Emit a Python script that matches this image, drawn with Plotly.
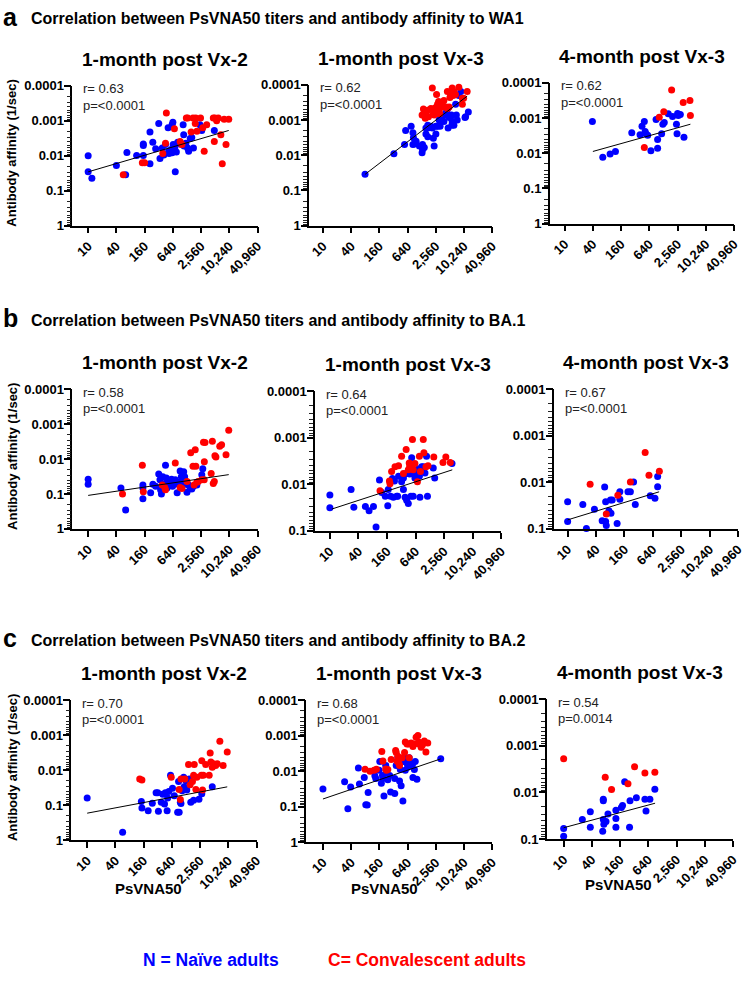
import math
import plotly.graph_objects as go

W, H = 747, 983
BLUE = "#0000FF"
RED = "#FF0000"
FONT = "Liberation Sans, Arial, Helvetica, sans-serif"

# ---------------- data ----------------
X_TICKS = [10, 40, 160, 640, 2560, 10240, 40960]
X_TICK_TEXT = ["10", "40", "160", "640", "2,560", "10,240", "40,960"]
Y_TICKS = [0.0001, 0.001, 0.01, 0.1, 1]
Y_TICK_TEXT = ["0.0001", "0.001", "0.01", "0.1", "1"]

SECTION_LETTERS = ["a", "b", "c"]
SECTION_TITLES = [
    "Correlation between PsVNA50 titers and antibody affinity to WA1",
    "Correlation between PsVNA50 titers and antibody affinity to BA.1",
    "Correlation between PsVNA50 titers and antibody affinity to BA.2",
]
PANEL_TITLES = ["1-month post Vx-2", "1-month post Vx-3", "4-month post Vx-3"] * 3
R_TEXT = ["r= 0.63", "r= 0.62", "r= 0.62", "r= 0.58", "r= 0.64", "r= 0.67",
          "r= 0.70", "r= 0.68", "r= 0.54"]
P_TEXT = ["p=&lt;0.0001"] * 8 + ["p=0.0014"]

# WA1, 1-month post Vx-2
A1_N = [(10, 0.010), (10, 0.029), (12, 0.044), (40, 0.019), (63, 0.035), (67, 0.0081), (108, 0.0098),
        (150, 0.0046), (150, 0.0051), (150, 0.0098), (208, 0.0021), (208, 0.017), (239, 0.0041),
        (275, 0.0063), (320, 0.0012), (340, 0.012), (380, 0.006), (410, 0.0096), (446, 0.0048),
        (507, 0.0016), (520, 0.0074), (530, 0.0087), (590, 0.0066), (617, 0.0013), (617, 0.0083),
        (640, 0.0011), (650, 0.0048), (700, 0.0062), (720, 0.029), (760, 0.0079), (810, 0.0041),
        (880, 0.0046), (970, 0.0046), (1060, 0.0013), (1090, 0.0025), (1110, 0.0053), (1210, 0.0044),
        (1320, 0.006), (1390, 0.0074), (1500, 0.0032), (1620, 0.003), (1760, 0.006), (2420, 0.0013),
        (2640, 0.0019), (4900, 0.0019)]
A1_C = [(56, 0.035), (143, 0.016), (160, 0.016), (390, 0.0087), (446, 0.0044), (465, 0.0006),
        (690, 0.0017), (915, 0.0039), (970, 0.0046), (1000, 0.0048), (1240, 0.00083), (1330, 0.00083),
        (1570, 0.0021), (1720, 0.00083), (1970, 0.00083), (1920, 0.0012), (2080, 0.002), (2490, 0.00083),
        (2780, 0.0016), (2980, 0.0074), (3370, 0.0013), (4660, 0.00083), (4900, 0.0039), (5050, 0.00083),
        (5500, 0.001), (5950, 0.00083), (6750, 0.0025), (7240, 0.017), (8700, 0.0048), (9950, 0.00091),
        (7940, 0.00091)]
A1_FIT = [(10, 0.029), (9950, 0.0019)]

# WA1, 1-month post Vx-3
A2_N = [(79, 0.035), (326, 0.0091), (550, 0.005), (580, 0.002), (760, 0.0015), (830, 0.0023), (850, 0.0032),
        (890, 0.0048), (970, 0.004), (830, 0.005), (1140, 0.0055), (1300, 0.0085), (1330, 0.005),
        (1330, 0.0069), (1450, 0.006), (1570, 0.0025), (1570, 0.0017), (1720, 0.0017), (1720, 0.003),
        (1720, 0.0014), (2000, 0.0015), (2150, 0.0017), (2260, 0.0033), (2350, 0.0055), (2560, 0.0025),
        (2560, 0.0015), (2780, 0.0015), (3000, 0.001), (3150, 0.0015), (3370, 0.00093), (3500, 0.00081),
        (3800, 0.0011), (4100, 0.00065), (4200, 0.00072), (4400, 0.00053), (4500, 0.00047), (4660, 0.0017),
        (4900, 0.00085), (5300, 0.00081), (5500, 0.00072), (5600, 0.0014), (5700, 0.0011), (6200, 0.0014),
        (6750, 0.00036), (7000, 0.00072), (7300, 0.001), (7900, 0.0002), (8700, 0.000154), (10700, 0.00085),
        (11000, 0.00081), (12600, 0.00059)]
A2_C = [(1300, 0.00072), (1390, 0.00049), (1520, 0.00089), (1570, 0.00059), (1690, 0.00081), (1720, 0.00053),
        (1780, 0.00081), (2000, 0.00047), (2150, 0.000123), (2260, 0.00066), (2350, 0.00072), (2490, 0.00045),
        (2560, 0.00066), (2650, 0.00019), (2780, 0.00036), (2930, 0.0003), (3000, 0.00053), (3100, 0.00066),
        (3250, 0.00041), (3500, 0.00043), (3600, 0.00039), (3800, 0.00028), (4200, 0.00043), (4500, 0.00047),
        (4500, 0.000154), (4900, 0.00043), (5100, 0.00023), (5300, 0.00019), (5700, 0.000123), (6000, 0.0002),
        (6200, 0.000154), (6700, 0.00019), (7900, 0.000117), (9400, 0.00036), (9400, 0.00024),
        (10000, 0.00024), (11900, 0.000154)]
A2_FIT = [(79, 0.035), (11900, 0.00021)]

# WA1, 4-month post Vx-3
A3_N = [(39, 0.00126), (65, 0.013), (93, 0.0105), (121, 0.0089), (270, 0.0026), (405, 0.003), (446, 0.0017),
        (500, 0.00126), (520, 0.0024), (540, 0.0028), (590, 0.0031), (690, 0.0085), (890, 0.0011),
        (960, 0.0041), (960, 0.0072), (1170, 0.0028), (1240, 0.0015), (1330, 0.00135), (1620, 0.00076),
        (2000, 0.00091), (2420, 0.0015), (2490, 0.0028), (2560, 0.00074), (2650, 0.00085), (2930, 0.00079),
        (3500, 0.0035)]
A3_C = [(500, 0.0069), (1040, 0.00095), (1300, 0.00066), (1910, 0.00016), (3370, 0.00036), (4700, 0.00032),
        (4800, 0.00085)]
A3_FIT = [(40, 0.0089), (4800, 0.0015)]

# BA.1, 1-month post Vx-2
B1_N = [(10, 0.038), (10, 0.053), (50, 0.068), (63, 0.29), (147, 0.055), (147, 0.068), (147, 0.138),
        (215, 0.093), (240, 0.053), (275, 0.06), (320, 0.027), (340, 0.039), (350, 0.076), (365, 0.1),
        (390, 0.032), (430, 0.051), (446, 0.015), (465, 0.035), (480, 0.068), (520, 0.044), (565, 0.053),
        (600, 0.038), (610, 0.053), (630, 0.06), (660, 0.044), (700, 0.053), (720, 0.039), (790, 0.093),
        (850, 0.047), (915, 0.022), (970, 0.032), (1000, 0.044), (1090, 0.023), (1140, 0.032), (1170, 0.053),
        (1280, 0.089), (1390, 0.055), (1500, 0.068), (1620, 0.072), (1760, 0.06), (2080, 0.055),
        (2650, 0.028), (2780, 0.019)]
B1_C = [(54, 0.1), (143, 0.015), (150, 0.087), (380, 0.055), (430, 0.065), (446, 0.076), (720, 0.013),
        (915, 0.065), (1000, 0.07), (1280, 0.044), (1540, 0.0066), (1720, 0.016), (1810, 0.055),
        (1920, 0.0054), (1980, 0.016), (2080, 0.046), (2230, 0.044), (2650, 0.039), (2880, 0.0033),
        (2980, 0.039), (3000, 0.012), (3100, 0.0034), (4200, 0.026), (4450, 0.0031), (4650, 0.05),
        (4900, 0.044), (5050, 0.0081), (5300, 0.0087), (6400, 0.0043), (7000, 0.0039), (8700, 0.0075),
        (9950, 0.0015)]
B1_FIT = [(10, 0.11), (9950, 0.028)]

# BA.1, 1-month post Vx-3
B2_N = [(10, 0.017), (10, 0.032), (28, 0.013), (32, 0.031), (56, 0.03), (67, 0.037), (83, 0.03), (94, 0.083),
        (111, 0.0081), (124, 0.015), (147, 0.018), (166, 0.029), (170, 0.013), (190, 0.018), (208, 0.0075),
        (218, 0.019), (230, 0.0085), (256, 0.018), (268, 0.018), (280, 0.0067), (325, 0.0088), (355, 0.0073),
        (355, 0.013), (385, 0.019), (405, 0.0059), (415, 0.022), (450, 0.026), (480, 0.006), (510, 0.018),
        (530, 0.0027), (570, 0.018), (620, 0.0073), (620, 0.0059), (670, 0.0059), (720, 0.0047),
        (770, 0.0067), (790, 0.019), (860, 0.0042), (930, 0.0042), (1010, 0.0057), (1090, 0.0025),
        (1140, 0.018), (1510, 0.0045), (1620, 0.0073), (3750, 0.0036)]
B2_C = [(114, 0.0138), (180, 0.0085), (185, 0.0097), (200, 0.0053), (236, 0.0042), (280, 0.004),
        (325, 0.0025), (355, 0.0059), (405, 0.0018), (450, 0.0049), (470, 0.0035), (480, 0.0042),
        (530, 0.0042), (550, 0.0011), (570, 0.0049), (620, 0.0036), (700, 0.0088), (770, 0.0025),
        (810, 0.0053), (930, 0.0011), (960, 0.0021), (1060, 0.0042), (1170, 0.004), (1550, 0.0026),
        (2420, 0.0034), (2780, 0.0026), (3450, 0.0034)]
B2_FIT = [(11, 0.034), (3800, 0.0049)]

# BA.1, 4-month post Vx-3
B3_N = [(10, 0.026), (10, 0.069), (21, 0.03), (25, 0.098), (37, 0.038), (54, 0.067), (61, 0.0126), (64, 0.026),
        (64, 0.069), (66, 0.085), (75, 0.041), (81, 0.024), (83, 0.046), (88, 0.024), (112, 0.077),
        (128, 0.016), (128, 0.023), (190, 0.016), (214, 0.016), (250, 0.0098), (272, 0.03), (565, 0.0195),
        (710, 0.022), (810, 0.0075), (810, 0.0125)]
B3_C = [(30, 0.011), (66, 0.048), (116, 0.019), (214, 0.0098), (440, 0.0023), (530, 0.0071), (880, 0.0058)]
B3_FIT = [(10, 0.064), (870, 0.016)]

# BA.2, 1-month post Vx-2
C1_N = [(10, 0.063), (57, 0.6), (143, 0.079), (147, 0.12), (200, 0.145), (245, 0.089), (295, 0.044),
        (320, 0.044), (330, 0.15), (380, 0.083), (410, 0.049), (446, 0.093), (465, 0.044), (507, 0.145),
        (520, 0.063), (550, 0.041), (600, 0.014), (660, 0.033), (720, 0.054), (850, 0.16), (890, 0.021),
        (915, 0.16), (970, 0.083), (1000, 0.09), (1060, 0.039), (1140, 0.016), (1170, 0.03), (1280, 0.02),
        (1330, 0.037), (1500, 0.018), (1620, 0.083), (1860, 0.072), (2420, 0.068), (2780, 0.047),
        (4650, 0.03)]
C1_C = [(132, 0.018), (147, 0.019), (620, 0.016), (915, 0.036), (970, 0.069), (1000, 0.018), (1210, 0.018),
        (1450, 0.0069), (1570, 0.026), (1760, 0.021), (1860, 0.014), (1920, 0.0069), (2080, 0.036),
        (2180, 0.016), (2720, 0.014), (2780, 0.0054), (2880, 0.037), (3000, 0.014), (3370, 0.0069),
        (4000, 0.014), (4200, 0.0032), (4350, 0.0058), (4650, 0.0083), (4900, 0.0066), (5500, 0.0073),
        (5950, 0.0066), (6750, 0.0015), (7940, 0.0073), (9700, 0.003)]
C1_FIT = [(10, 0.17), (9700, 0.03)]

# BA.2, 1-month post Vx-3
C2_N = [(10, 0.032), (29, 0.02), (34, 0.115), (39, 0.028), (57, 0.0081), (60, 0.023), (76, 0.015), (82, 0.088),
        (88, 0.09), (92, 0.04), (128, 0.0135), (134, 0.016), (158, 0.0094), (163, 0.0053), (176, 0.022),
        (186, 0.0133), (190, 0.016), (200, 0.05), (218, 0.0069), (226, 0.011), (242, 0.0175), (265, 0.0133),
        (277, 0.039), (340, 0.043), (340, 0.016), (365, 0.0069), (395, 0.0042), (430, 0.019), (446, 0.009),
        (465, 0.026), (507, 0.069), (520, 0.0053), (550, 0.0042), (570, 0.0095), (620, 0.006), (640, 0.0077),
        (670, 0.0048), (690, 0.0042), (760, 0.0069), (830, 0.015), (830, 0.006), (890, 0.009), (930, 0.0053),
        (1010, 0.017), (3250, 0.0045)]
C2_C = [(79, 0.0089), (101, 0.01), (123, 0.0094), (138, 0.0089), (180, 0.0028), (190, 0.0052), (218, 0.0087),
        (226, 0.0094), (242, 0.009), (285, 0.0047), (355, 0.0026), (365, 0.003), (380, 0.0052), (395, 0.0038),
        (415, 0.006), (430, 0.0069), (490, 0.0042), (550, 0.003), (570, 0.0015), (620, 0.0017), (670, 0.0017),
        (690, 0.0042), (760, 0.0016), (830, 0.002), (890, 0.0017), (970, 0.0011), (1060, 0.00099),
        (1100, 0.0015), (1140, 0.0017), (1240, 0.0021), (1330, 0.0018), (1450, 0.0014), (1570, 0.0029),
        (1720, 0.0016)]
C2_FIT = [(10, 0.061), (3250, 0.0045)]

# BA.2, 4-month post Vx-3
C3_N = [(10, 0.087), (10, 0.059), (25, 0.038), (37, 0.026), (37, 0.056), (68, 0.068), (70, 0.014), (70, 0.015),
        (70, 0.038), (72, 0.048), (80, 0.042), (88, 0.029), (130, 0.036), (130, 0.056), (130, 0.024),
        (170, 0.021), (180, 0.019), (200, 0.0059), (254, 0.056), (260, 0.015), (355, 0.013), (540, 0.014),
        (570, 0.025), (690, 0.014), (880, 0.0085)]
C3_C = [(10, 0.0019), (77, 0.0047), (105, 0.0086), (235, 0.0065), (325, 0.0028), (540, 0.0038), (880, 0.0037)]
C3_FIT = [(10, 0.057), (890, 0.017)]

NAIVE = [A1_N, A2_N, A3_N, B1_N, B2_N, B3_N, C1_N, C2_N, C3_N]
CONV = [A1_C, A2_C, A3_C, B1_C, B2_C, B3_C, C1_C, C2_C, C3_C]
FITS = [A1_FIT, A2_FIT, A3_FIT, B1_FIT, B2_FIT, B3_FIT, C1_FIT, C2_FIT, C3_FIT]
Y_LOWEST = [1, 1, 1, 1, 0.1, 0.1, 1, 1, 0.1]

# ---------------- layout geometry (pixels) ----------------
# (axis left, x of tick "10", axis right, top (0.0001), bottom)
GEOM = [
    (73, 89, 260, 80, 222), (312, 326, 497, 79, 222), (555, 570, 741, 77, 220),
    (73, 89, 260, 388, 530), (318, 333, 506, 390, 532), (559, 573, 745, 388, 530),
    (72, 88, 259, 704, 846), (309, 326, 497, 704, 848), (552, 569, 740, 703, 845),
]
XTITLE_POS = [(150, 895), (388, 895), (624, 891)]
SECTION_Y = [10, 316, 641]
MINOR_VALS = [m * 10.0 ** e for e in range(-4, 0) for m in range(2, 10)]


def fx(p):
    return p / W


def fy(p):
    return 1 - p / H


fig = go.Figure()
layout = dict(
    width=W, height=H, margin=dict(l=0, r=0, t=0, b=0),
    paper_bgcolor="white", plot_bgcolor="white", showlegend=False,
    font=dict(family=FONT, color="black"),
)
annotations = []
LOGMAX = math.log10(40960)

for i in range(9):
    left, x10, right, top, bottom = GEOM[i]
    ppd = (right - x10) / (LOGMAX - 1)
    xmin = 1 - (x10 - left) / ppd
    sfx = "" if i == 0 else str(i + 1)
    xa, ya = "x" + sfx, "y" + sfx
    yrange = [math.log10(Y_LOWEST[i]), -4]
    minor = [v for v in MINOR_VALS if v < Y_LOWEST[i]]

    layout["xaxis" + sfx] = dict(
        type="log", domain=[fx(left), fx(right)], range=[xmin, LOGMAX], anchor=ya,
        showgrid=False, zeroline=False, showline=True, linecolor="black", linewidth=1.5,
        ticks="outside", ticklen=6, tickwidth=1.5, tickcolor="black",
        tickmode="array", tickvals=X_TICKS, ticktext=X_TICK_TEXT, tickangle=-45,
        tickfont=dict(family=FONT, size=13, weight="bold", color="black"),
    )
    # main y axis: labelled decades plus unlabelled minor ticks
    layout["yaxis" + sfx] = dict(
        type="log", domain=[fy(bottom), fy(top)], range=yrange, anchor=xa,
        showgrid=False, zeroline=False, showline=True, linecolor="black", linewidth=1.5,
        ticks="outside", ticklen=4, tickwidth=1, tickcolor="#222",
        tickmode="array", tickvals=Y_TICKS + minor, ticktext=Y_TICK_TEXT + [""] * len(minor),
        tickfont=dict(family=FONT, size=13, weight="bold", color="black"),
    )
    # overlay axis giving the decades a longer tick
    mid = str(10 + i)
    layout["yaxis" + mid] = dict(
        type="log", range=yrange, overlaying=ya, anchor=xa, side="left",
        showgrid=False, zeroline=False, showline=False, showticklabels=False,
        ticks="outside", ticklen=7, tickwidth=1.5, tickcolor="black",
        tickmode="array", tickvals=Y_TICKS,
    )
    fig.add_trace(go.Scatter(x=[None], y=[None], mode="markers", xaxis=xa, yaxis="y" + mid,
                             hoverinfo="skip"))

    nx = [p[0] for p in NAIVE[i]]
    ny = [p[1] for p in NAIVE[i]]
    cx = [p[0] for p in CONV[i]]
    cy = [p[1] for p in CONV[i]]
    fxs = [p[0] for p in FITS[i]]
    fys = [p[1] for p in FITS[i]]
    fig.add_trace(go.Scatter(x=nx, y=ny, mode="markers", xaxis=xa, yaxis=ya, cliponaxis=False,
                             marker=dict(color=BLUE, size=7, line=dict(width=0))))
    fig.add_trace(go.Scatter(x=cx, y=cy, mode="markers", xaxis=xa, yaxis=ya, cliponaxis=False,
                             marker=dict(color=RED, size=7, line=dict(width=0))))
    fig.add_trace(go.Scatter(x=fxs, y=fys, mode="lines", xaxis=xa, yaxis=ya,
                             line=dict(color="black", width=1)))

    cxp = (left + right) / 2
    annotations.append(dict(text=PANEL_TITLES[i], x=fx(cxp), y=fy(top - 27), xref="paper", yref="paper",
                            xanchor="center", yanchor="middle", showarrow=False,
                            font=dict(family=FONT, size=19, weight="bold", color="black")))
    annotations.append(dict(text=R_TEXT[i], x=fx(left + 9), y=fy(top + 3), xref="paper", yref="paper",
                            xanchor="left", yanchor="middle", showarrow=False,
                            font=dict(family=FONT, size=13, color="#222")))
    annotations.append(dict(text=P_TEXT[i], x=fx(left + 9), y=fy(top + 20), xref="paper", yref="paper",
                            xanchor="left", yanchor="middle", showarrow=False,
                            font=dict(family=FONT, size=13, color="#222")))
    if i % 3 == 0:
        annotations.append(dict(text="Antibody affinity (1/sec)", x=fx(12), y=fy((top + bottom) / 2 - 3),
                                xref="paper", yref="paper", xanchor="center", yanchor="middle",
                                textangle=-90, showarrow=False,
                                font=dict(family=FONT, size=13, weight="bold", color="black")))
    if i >= 6:
        tx, ty = XTITLE_POS[i - 6]
        annotations.append(dict(text="PsVNA50", x=fx(tx), y=fy(ty), xref="paper", yref="paper",
                                xanchor="center", yanchor="middle", showarrow=False,
                                font=dict(family=FONT, size=15, weight="bold", color="black")))

for k in range(3):
    annotations.append(dict(text=SECTION_LETTERS[k], x=fx(1), y=fy(SECTION_Y[k]), xref="paper", yref="paper",
                            xanchor="left", yanchor="middle", showarrow=False,
                            font=dict(family=FONT, size=25, weight="bold", color="black")))
    annotations.append(dict(text=SECTION_TITLES[k], x=fx(29), y=fy(SECTION_Y[k] + 2), xref="paper",
                            yref="paper", xanchor="left", yanchor="middle", showarrow=False,
                            font=dict(family=FONT, size=16, weight="bold", color="black")))

LEGEND_TEXT = ["N = Naïve adults", "C= Convalescent adults"]
LEGEND_COLORS = [BLUE, RED]
LEGEND_X = [213, 431]
for t, c, x in zip(LEGEND_TEXT, LEGEND_COLORS, LEGEND_X):
    annotations.append(dict(text=t, x=fx(x), y=fy(968), xref="paper", yref="paper",
                            xanchor="center", yanchor="middle", showarrow=False,
                            font=dict(family=FONT, size=17.5, weight="bold", color=c)))

layout["annotations"] = annotations
fig.update_layout(**layout)
fig.write_html("out.html", config={"displayModeBar": False},
               post_script="document.body.style.margin='0';document.body.style.overflow='hidden';")
